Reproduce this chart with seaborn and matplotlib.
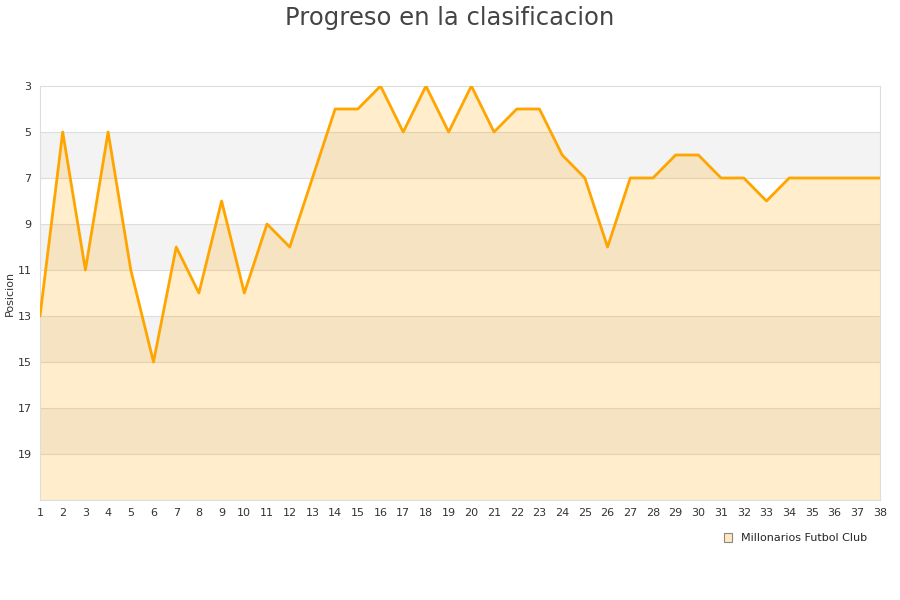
import matplotlib
matplotlib.use("Agg")
import matplotlib.pyplot as plt
import seaborn as sns
import pandas as pd
from matplotlib.patches import Patch

# Posicion por jornada
jornadas = list(range(1, 39))
posicion = [13, 5, 11, 5, 11, 15, 10, 12, 8, 12, 9, 10, 7, 4, 4, 3, 5, 3, 5, 3,
            5, 4, 4, 6, 7, 10, 7, 7, 6, 6, 7, 7, 8, 7, 7, 7, 7, 7]
y_ticks = [3, 5, 7, 9, 11, 13, 15, 17, 19]
equipo = "Millonarios Futbol Club"

df = pd.DataFrame({"jornada": jornadas, "posicion": posicion})

sns.set_theme(style="white")
plt.rcParams['font.family'] = ['DejaVu Sans']

fig = plt.figure(figsize=(9, 6), dpi=100)
ax = fig.add_axes([40 / 900, 100 / 600, 840 / 900, 414 / 600])

# bandas alternas
for y0 in range(5, 21, 4):
    ax.axhspan(y0, y0 + 2, color="#f3f3f3", zorder=0, lw=0)
for y in y_ticks[1:]:
    ax.axhline(y, color="#dddddd", lw=0.8, zorder=0.5)

ax.fill_between(df["jornada"], df["posicion"], 21, color="#ffa500", alpha=0.2, lw=0, zorder=1)
sns.lineplot(data=df, x="jornada", y="posicion", color="#ffa500", lw=2, ax=ax, zorder=3)

ax.set_xlim(1, 38)
ax.set_ylim(21, 3)
ax.set_xticks(jornadas)
ax.set_yticks(y_ticks)
ax.tick_params(axis="both", labelsize=8, colors="#333333", length=0, pad=6)
for s in ax.spines.values():
    s.set_color("#dddddd")
    s.set_linewidth(0.8)

ax.set_xlabel("")
ax.set_ylabel("Posicion", fontsize=8, color="#333333", labelpad=2)

fig.suptitle("Progreso en la clasificacion", y=0.99, fontsize=17.5, color="#444444")

handle = Patch(facecolor="#ffe9bf", edgecolor="#888888", lw=0.8)
fig.legend([handle], [equipo], loc="center right", bbox_to_anchor=(0.975, 0.103),
           frameon=False, fontsize=8, handlelength=0.8, handleheight=0.8, handletextpad=0.8)

fig.savefig("out.png", dpi=100)
